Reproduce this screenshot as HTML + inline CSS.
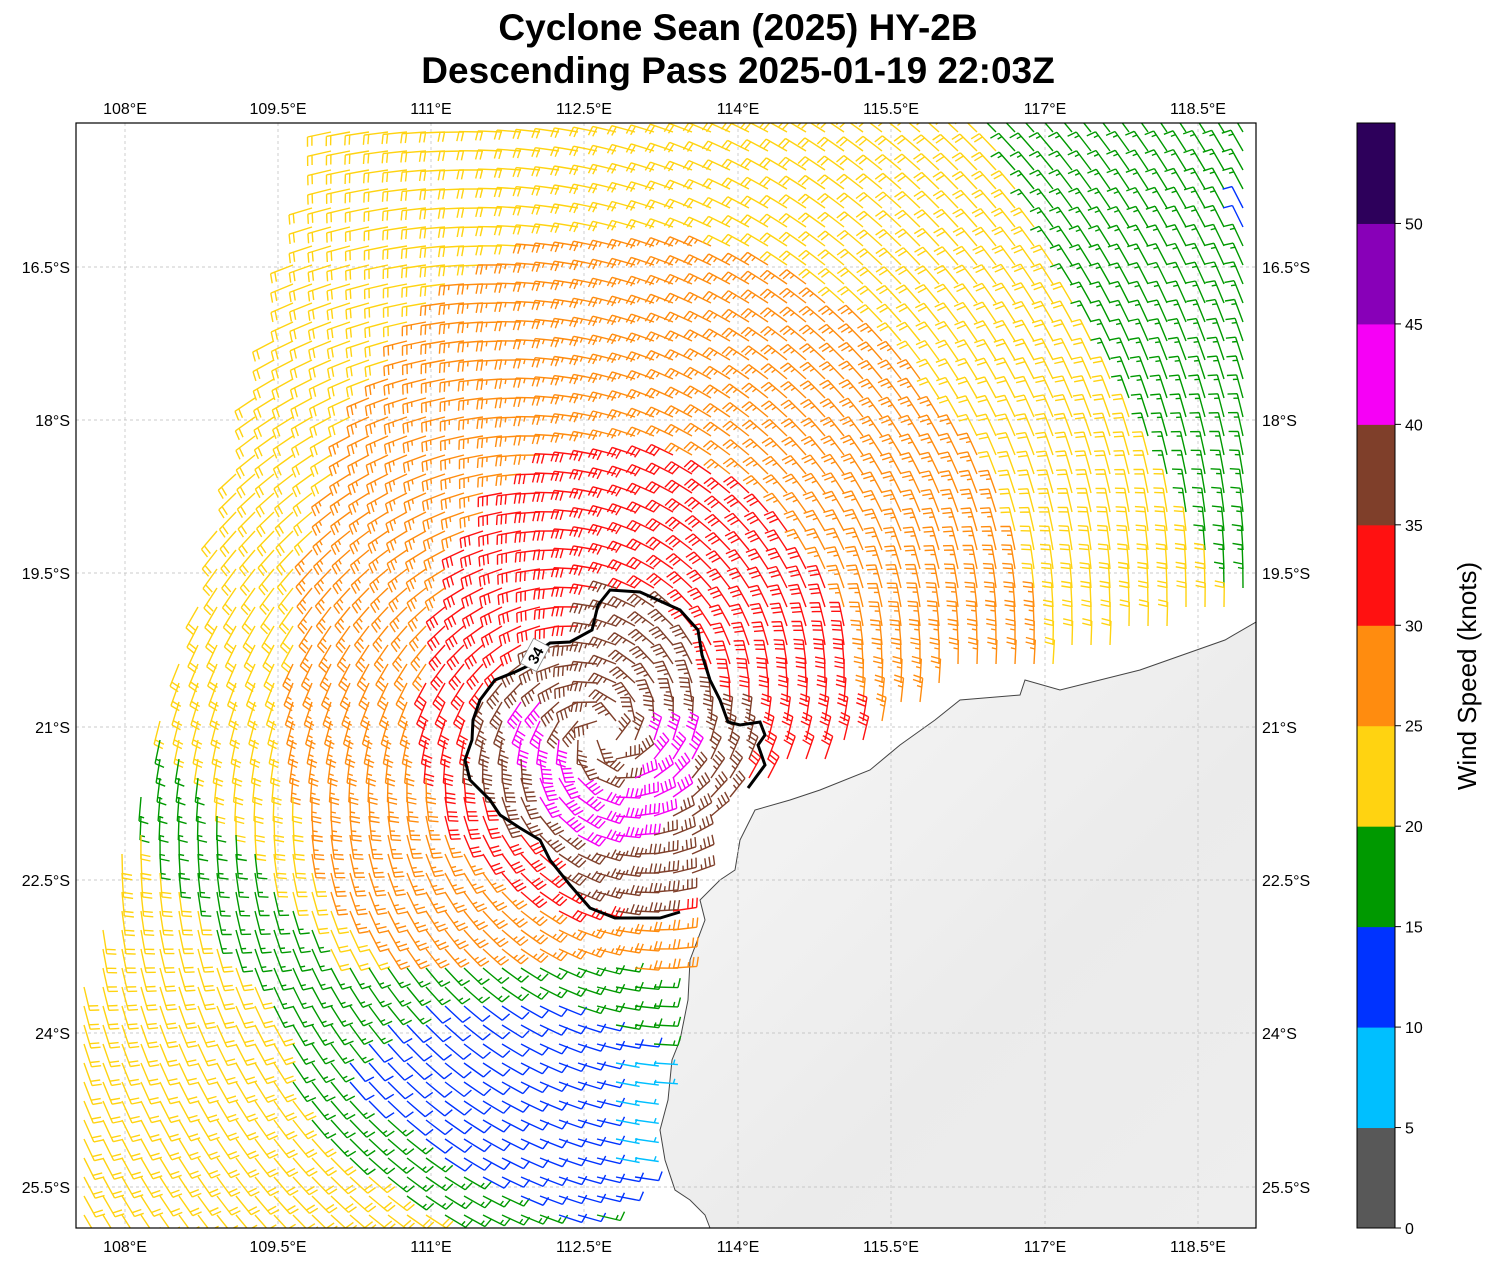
<!DOCTYPE html>
<html><head><meta charset="utf-8"><style>
body{margin:0;background:#fff;}
svg text{font-family:"Liberation Sans",sans-serif;}
</style></head><body>
<svg id="s" width="1494" height="1264" xmlns="http://www.w3.org/2000/svg">
<rect width="1494" height="1264" fill="#fff"/>
<text x="738" y="40" text-anchor="middle" font-size="37" font-weight="bold">Cyclone Sean (2025) HY-2B</text>
<text x="738" y="83" text-anchor="middle" font-size="37" font-weight="bold">Descending Pass 2025-01-19 22:03Z</text>
<defs><linearGradient id="lg" x1="0" y1="0" x2="1" y2="1"><stop offset="0" stop-color="#f8f8f8"/><stop offset="0.6" stop-color="#ebebeb"/><stop offset="1" stop-color="#eeeeee"/></linearGradient>
<clipPath id="cp"><rect x="76" y="123" width="1180" height="1105"/></clipPath></defs>
<g clip-path="url(#cp)">
<path d="M1256,622 L1225,640 1140,670 1060,690 1025,680 1020,695 960,700 935,720 900,745 870,770 820,790 790,800 755,810 740,840 735,870 720,880 700,900 705,920 690,960 688,1000 680,1040 672,1060 668,1100 660,1130 665,1160 675,1190 690,1200 705,1215 710,1228 L1256,1228 Z" fill="url(#lg)" stroke="#444" stroke-width="1"/>
<g id="grid" stroke="#bbb" stroke-width="0.7" stroke-dasharray="3,3"></g>
<g id="barbs" fill="none" stroke-width="1.4" stroke-linecap="butt"></g>
<path d="M748,788 L765,765 758,745 765,735 760,722 740,725 728,722 720,700 710,680 702,655 698,630 680,610 640,592 610,590 598,605 592,630 570,642 550,643 540,650 530,665 515,672 495,680 480,700 473,720 472,740 465,760 470,780 490,800 500,815 520,828 540,840 550,860 570,885 590,908 615,918 660,918 680,912" fill="none" stroke="#000" stroke-width="3"/>
<g transform="translate(535,655) rotate(-62)"><rect x="-14" y="-9" width="28" height="18" fill="#fff" stroke="#888" stroke-width="0.8"/><text x="0" y="6" text-anchor="middle" font-size="15" font-weight="bold">34</text></g>
</g>
<rect x="76" y="123" width="1180" height="1105" fill="none" stroke="#000" stroke-width="1.2"/>
<g id="labels" font-size="16"></g>
<g id="cb"></g>
<text transform="translate(1476,676) rotate(-90)" text-anchor="middle" font-size="26">Wind Speed (knots)</text>
</svg>
<script>
const NS="http://www.w3.org/2000/svg";
function el(p,t,a,txt){const e=document.createElementNS(NS,t);for(const k in a)e.setAttribute(k,a[k]);if(txt!==undefined)e.textContent=txt;document.getElementById(p).appendChild(e);return e;}
const lx=[125,278,431,584,738,891,1045,1198],ln=["108°E","109.5°E","111°E","112.5°E","114°E","115.5°E","117°E","118.5°E"];
const ly=[267,420,573,727,880,1033,1187],lt=["16.5°S","18°S","19.5°S","21°S","22.5°S","24°S","25.5°S"];
lx.forEach((x,i)=>{el("grid","line",{x1:x,y1:123,x2:x,y2:1228});el("labels","text",{x:x,y:114,"text-anchor":"middle"},ln[i]);el("labels","text",{x:x,y:1252,"text-anchor":"middle"},ln[i]);});
ly.forEach((y,i)=>{el("grid","line",{x1:76,y1:y,x2:1256,y2:y});el("labels","text",{x:70,y:y+6,"text-anchor":"end"},lt[i]);el("labels","text",{x:1262,y:y+6},lt[i]);});
const cols=["#585858","#00bfff","#0033ff","#009900","#ffd311","#ff8c0f","#ff1111","#7f3f2a","#f600f6","#8800b8","#2d005b"];
const h=1105/11;
cols.forEach((c,i)=>{el("cb","rect",{x:1357,y:1228-(i+1)*h,width:38,height:h+0.5,fill:c});});
el("cb","rect",{x:1357,y:123,width:38,height:1105,fill:"none",stroke:"#000","stroke-width":1});
for(let i=0;i<=10;i++){const y=1228-i*h;el("cb","line",{x1:1395,y1:y,x2:1401,y2:y,stroke:"#000"});el("cb","text",{x:1405,y:y+6,"font-size":16},String(i*5));}
const poly=[[333,123],[1256,123],[1256,600],[1140,640],[1060,665],[960,680],[900,720],[860,750],[780,780],[740,800],[700,840],[690,900],[675,960],[665,1040],[650,1100],[650,1170],[600,1228],[76,1228],[76,1010]];
const blue=[[330,1030],[430,1000],[560,1005],[650,1040],[700,1150],[620,1200],[560,1225],[480,1180],[400,1130],[345,1080]];
const cont=[[748,788],[765,765],[758,745],[765,735],[760,722],[740,725],[728,722],[720,700],[710,680],[702,655],[698,630],[680,610],[640,592],[610,590],[598,605],[592,630],[570,642],[550,643],[540,650],[530,665],[515,672],[495,680],[480,700],[473,720],[472,740],[465,760],[470,780],[490,800],[500,815],[520,828],[540,840],[550,860],[570,885],[590,908],[615,918],[660,918],[700,905],[710,850],[740,800]];
function inP(P,x,y){let c=false;for(let i=0,j=P.length-1;i<P.length;j=i++){const[xi,yi]=P[i],[xj,yj]=P[j];if(((yi>y)!=(yj>y))&&(x<(xj-xi)*(y-yi)/(yj-yi)+xi))c=!c;}return c;}
function segd(x,y,ax,ay,bx,by){const vx=bx-ax,vy=by-ay;let t=((x-ax)*vx+(y-ay)*vy)/(vx*vx+vy*vy);t=Math.max(0,Math.min(1,t));return Math.hypot(x-ax-t*vx,y-ay-t*vy);}
function pd(P,x,y){let m=1e9;for(let i=0,j=P.length-1;i<P.length;j=i++)m=Math.min(m,segd(x,y,P[j][0],P[j][1],P[i][0],P[i][1]));return m;}
const CX=605,CY=735;
function speed(x,y){const dx=x-CX,dy=y-CY,r=Math.hypot(dx,dy);
const re=Math.hypot(dx*(dx<0?1.2:0.85),dy*(dy<0?0.75:1.2));
let s;
if(inP(cont,x+6,y+4)){s=37;
 const mr=Math.hypot(dx,dy*0.9);
 if((dy>-5&&mr>45&&mr<95&&dx>-70&&dx<95)||(dx<-55&&dx>-85&&dy>-40&&dy<15))s=42;}
else if(re<220)s=32;else if(re<380)s=27;else s=22;
if(x>990+(y-123)*0.5)s=Math.min(s,17);
if(inP(blue,x,y)){s=12;if(x>615&&y>1045&&y<1175)s=7;}
else if(s<=27&&y>950&&pd(blue,x,y)<55)s=17;
if(segd(x,y,140,760,330,1020)<40&&s<=22)s=17;
if(x>1225&&y>200&&y<240)s=12;
return s;}
function color(s){return cols[Math.min(10,Math.floor(s/5))];}
let out="";
for(let y=132;y<1228;y+=19){for(let x=84;x<1256;x+=19){
if(!inP(poly,x,y))continue;
const dx=x-CX,dy=y-CY,r=Math.hypot(dx,dy)||1;
let vx=-dy/r-0.22*dx/r,vy=dx/r-0.22*dy/r;const m=Math.hypot(vx,vy);vx/=m;vy/=m;
const ux=-vx,uy=-vy;const L=24;
const tx=x+ux*L,ty=y+uy*L;
const px=uy,py=-ux;
const s=speed(x,y);let full=Math.floor(s/10),half=(s%10)>=5?1:0;
let d=`M${x.toFixed(1)},${y.toFixed(1)}L${tx.toFixed(1)},${ty.toFixed(1)}`;
let pos=0;
for(let k=0;k<full;k++){const bx=tx-ux*pos,by=ty-uy*pos;d+=`M${bx.toFixed(1)},${by.toFixed(1)}l${(px*9.5+ux*2).toFixed(1)},${(py*9.5+uy*2).toFixed(1)}`;pos+=4.5;}
if(half){if(full===0)pos=4.5;const bx=tx-ux*pos,by=ty-uy*pos;d+=`M${bx.toFixed(1)},${by.toFixed(1)}l${(px*4.8+ux*1).toFixed(1)},${(py*4.8+uy*1).toFixed(1)}`;}
out+=`<path d="${d}" stroke="${color(s)}"/>`;
}}
document.getElementById("barbs").innerHTML=out;
</script>
</body></html>
